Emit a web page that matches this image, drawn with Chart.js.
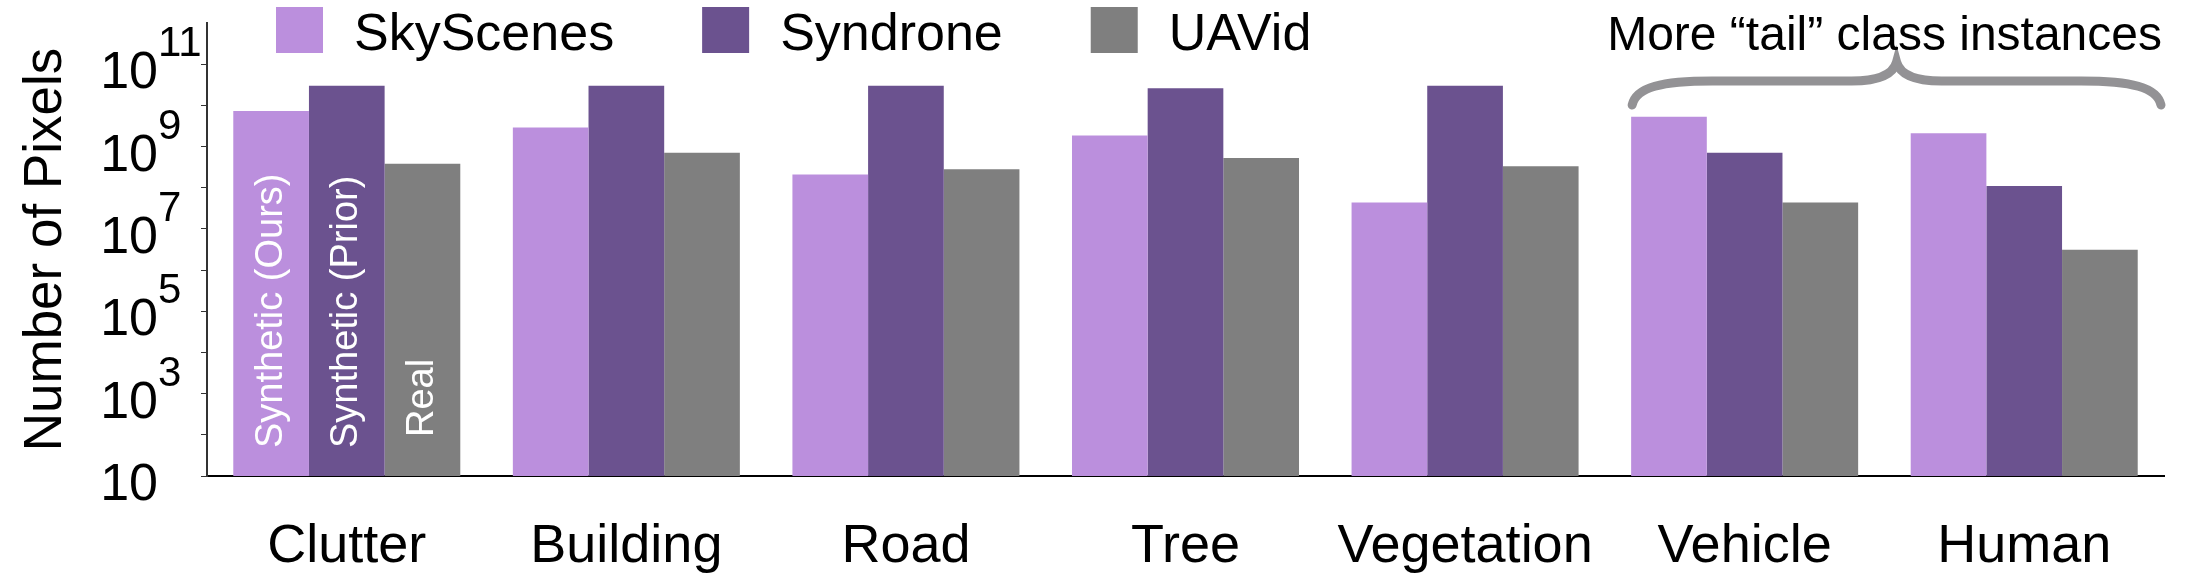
<!DOCTYPE html>
<html lang="en">
<head>
    <meta charset="UTF-8">
    <title>Number of Pixels per Class</title>
    <script src="https://cdn.jsdelivr.net/npm/chart.js"></script>
    <style>
        body { margin: 0; background: #fff; }
        #wrap { width: 2193px; height: 582px; position: relative; }
    </style>
</head>
<body>
<div id="wrap"><canvas id="pixelChart"></canvas></div>
<script>
    // categories and per-dataset pixel counts
    const categories = ['Clutter', 'Building', 'Road', 'Tree', 'Vegetation', 'Vehicle', 'Human'];
    const skyScenes = [7.3e9, 2.9e9, 2.1e8, 1.85e9, 4.4e7, 5.3e9, 2.1e9];
    const syndrone  = [3.0e10, 3.0e10, 3.0e10, 2.6e10, 3.0e10, 7.1e8, 1.1e8];
    const uavid     = [3.8e8, 7.1e8, 2.8e8, 5.3e8, 3.3e8, 4.4e7, 3.1e6];

    const seriesNames = ['SkyScenes', 'Syndrone', 'UAVid'];
    const barNotes = ['Synthetic (Ours)', 'Synthetic (Prior)', 'Real'];
    const tailNote = 'More \u201ctail\u201d class instances';

    // y axis: a tick every decade, labels on odd powers
    const yTickPowers = [1, 2, 3, 4, 5, 6, 7, 8, 9, 10, 11];
    const yLabelPowers = [1, 3, 5, 7, 9, 11];

    const colors = ['#bb8fdd', '#6b528f', '#7f7f7f'];
    const FONT = '"Liberation Sans", Arial, Helvetica, sans-serif';

    // draws superscript tick labels, legend, notes in bars and the brace
    const extras = {
        id: 'extras',
        afterDatasetsDraw(chart) {
            const { ctx, chartArea, scales: { y } } = chart;
            ctx.save();

            // tick labels 10^n
            yLabelPowers.forEach(p => {
                const ty = y.getPixelForValue(Math.pow(10, p));
                ctx.fillStyle = '#000';
                ctx.textBaseline = 'alphabetic';
                ctx.textAlign = 'right';
                ctx.font = '52px ' + FONT;
                ctx.fillText('10', 158, ty + 24);
                if (p !== 1) {
                    ctx.textAlign = 'left';
                    ctx.font = '42px ' + FONT;
                    ctx.fillText(String(p), 158, ty - 8);
                }
            });

            // legend
            let lx = 276;
            ctx.textAlign = 'left';
            ctx.textBaseline = 'alphabetic';
            ctx.font = '52px ' + FONT;
            chart.data.datasets.forEach(ds => {
                ctx.fillStyle = ds.backgroundColor;
                ctx.fillRect(lx, 7, 47, 46);
                ctx.fillStyle = '#000';
                ctx.fillText(ds.label, lx + 78, 50);
                lx += 78 + ctx.measureText(ds.label).width + 88;
            });

            // rotated notes inside the first group of bars
            ctx.fillStyle = '#fff';
            ctx.font = '38px ' + FONT;
            ctx.textBaseline = 'middle';
            ctx.textAlign = 'left';
            barNotes.forEach((note, i) => {
                const bar = chart.getDatasetMeta(i).data[0];
                ctx.save();
                ctx.translate(bar.x, chartArea.bottom - (i === 2 ? 39 : 28));
                ctx.rotate(-Math.PI / 2);
                ctx.fillText(note, 0, 0);
                ctx.restore();
            });

            // brace over the last two classes
            const first = chart.getDatasetMeta(0).data[5];
            const L = first.x - first.width / 2 + 1;
            const R = chartArea.right - 3;
            const mid = (L + R) / 2;
            const yEnd = chartArea.top + 82, yArm = chartArea.top + 58, yTip = chartArea.top + 39;
            ctx.strokeStyle = '#939295';
            ctx.lineWidth = 9;
            ctx.lineCap = 'round';
            ctx.beginPath();
            ctx.moveTo(L, yEnd);
            ctx.bezierCurveTo(L + 4, yArm + 6, L + 30, yArm, L + 80, yArm);
            ctx.lineTo(mid - 45, yArm);
            ctx.bezierCurveTo(mid - 15, yArm, mid - 3, yArm - 8, mid, yTip);
            ctx.bezierCurveTo(mid + 3, yArm - 8, mid + 15, yArm, mid + 45, yArm);
            ctx.lineTo(R - 80, yArm);
            ctx.bezierCurveTo(R - 30, yArm, R - 4, yArm + 6, R, yEnd);
            ctx.stroke();

            ctx.fillStyle = '#000';
            ctx.font = '48px ' + FONT;
            ctx.textAlign = 'right';
            ctx.textBaseline = 'alphabetic';
            ctx.fillText(tailNote, R + 1, chartArea.top + 27);

            ctx.restore();
        }
    };

    const ctx = document.getElementById('pixelChart').getContext('2d');
    new Chart(ctx, {
        type: 'bar',
        data: {
            labels: categories,
            datasets: [
                { label: seriesNames[0], data: skyScenes, backgroundColor: colors[0] },
                { label: seriesNames[1], data: syndrone, backgroundColor: colors[1] },
                { label: seriesNames[2], data: uavid, backgroundColor: colors[2] }
            ]
        },
        options: {
            responsive: true,
            maintainAspectRatio: false,
            animation: false,
            layout: { padding: { top: 23, right: 29, left: 0, bottom: 0 } },
            datasets: {
                bar: { categoryPercentage: 0.812, barPercentage: 1.0, borderWidth: 0 }
            },
            scales: {
                x: {
                    grid: { display: false },
                    border: { display: true, color: '#000', width: 2 },
                    ticks: {
                        color: '#000',
                        padding: 31,
                        font: { family: FONT, size: 54 }
                    },
                    afterFit: scale => { scale.height = 106; }
                },
                y: {
                    type: 'logarithmic',
                    min: 10,
                    max: 1e12,
                    afterBuildTicks: scale => {
                        scale.ticks = yTickPowers.map(p => ({ value: Math.pow(10, p) }));
                    },
                    afterFit: scale => { scale.width = 207; },
                    ticks: { display: false },
                    grid: { drawOnChartArea: false, drawTicks: true, tickLength: 6, color: '#333' },
                    border: { color: '#333', width: 2 },
                    title: {
                        display: true,
                        text: 'Number of Pixels',
                        color: '#000',
                        font: { family: FONT, size: 53, lineHeight: 1.6 }
                    }
                }
            },
            plugins: {
                legend: { display: false },
                tooltip: { enabled: false }
            }
        },
        plugins: [extras]
    });
</script>
</body>
</html>
